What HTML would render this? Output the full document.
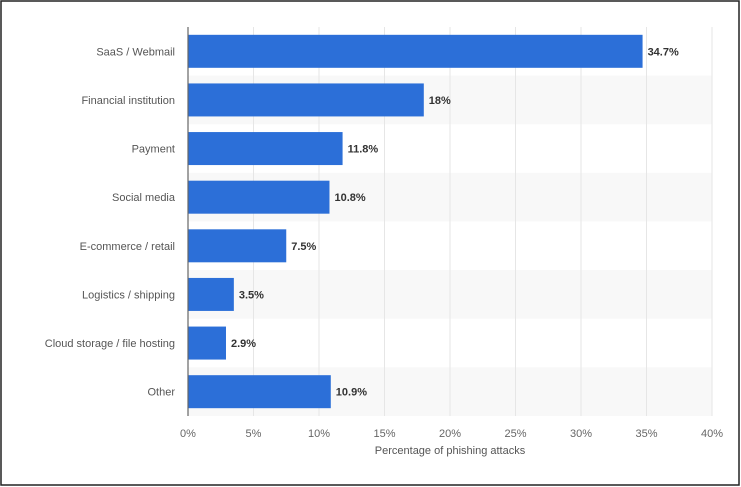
<!DOCTYPE html>
<html><head><meta charset="utf-8"><style>
html,body{margin:0;padding:0;background:#fff;}
svg{display:block;font-family:"Liberation Sans",sans-serif;}
</style></head><body>
<svg id="chart" width="741" height="487">
<rect x="1" y="1" width="738" height="484" fill="#fff" stroke="#222" stroke-width="1.5"/>
<g id="bands"></g><g id="grid"></g><g id="bars"></g><g id="labels"></g>
<line x1="188" y1="27" x2="188" y2="416" stroke="#666" stroke-width="1.2"/>
<text x="450" y="454" text-anchor="middle" font-size="11" fill="#555">Percentage of phishing attacks</text>
</svg>
<script>
const categories=["SaaS / Webmail","Financial institution","Payment","Social media","E-commerce / retail","Logistics / shipping","Cloud storage / file hosting","Other"];
const values=[34.7,18,11.8,10.8,7.5,3.5,2.9,10.9];
const valueLabels=["34.7%","18%","11.8%","10.8%","7.5%","3.5%","2.9%","10.9%"];
const ticks=[0,5,10,15,20,25,30,35,40];
const NS="http://www.w3.org/2000/svg";
const x0=188,x1=712,plotTop=27,plotBottom=416,maxV=40;
const xs=v=>x0+(v/maxV)*(x1-x0);
const rowH=(plotBottom-plotTop)/categories.length;
const yc=i=>plotTop+rowH*(i+0.5);
function mk(tag,attrs,parent){const e=document.createElementNS(NS,tag);for(const k in attrs)e.setAttribute(k,attrs[k]);document.getElementById(parent).appendChild(e);return e;}
categories.forEach((c,i)=>{if(i%2==1){const b=mk('rect',{x:x0,y:plotTop+rowH*i,width:x1-x0,height:rowH,fill:'#f8f8f8'},'bands');

}});
ticks.forEach(t=>{if(t>0){const g=mk('line',{x1:xs(t),x2:xs(t),y1:plotTop,y2:plotBottom,stroke:'#e6e6e6','stroke-width':1},'grid');

}
const tl=mk('text',{x:xs(t),y:437,'text-anchor':'middle','font-size':11,fill:'#666'},'labels');tl.textContent=t+'%';

});
categories.forEach((c,i)=>{const bh=33;
const r=mk('rect',{x:x0,y:yc(i)-bh/2,width:xs(values[i])-x0,height:bh,fill:'#2c6fd8'},'bars');


const v=mk('text',{x:xs(values[i])+5,y:yc(i)+4,'font-size':11,'font-weight':'bold',fill:'#333'},'labels');v.textContent=valueLabels[i];


const l=mk('text',{x:175,y:yc(i)+4,'text-anchor':'end','font-size':11,fill:'#555'},'labels');l.textContent=c;

});
</script>
</body></html>
